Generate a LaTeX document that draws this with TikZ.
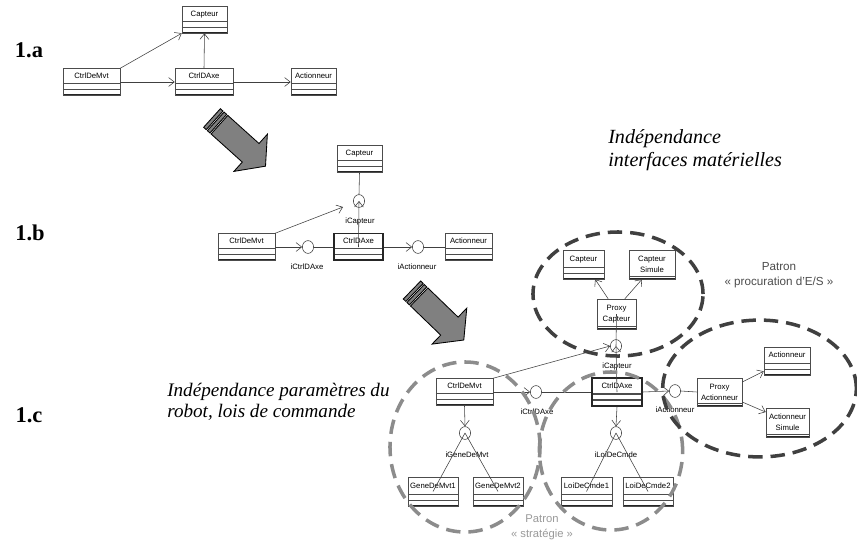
\documentclass[tikz,border=0pt]{standalone}
\usepackage{fontspec}
\setmainfont{Liberation Serif}
\setsansfont{Liberation Sans}
\usetikzlibrary{arrows.meta,shapes.geometric}

\tikzset{
  cls/.style={draw=black!70, fill=white, inner sep=0pt, minimum height=0.675cm,
    text height=0.25cm, text depth=0.425cm, font=\sffamily\fontsize{5.5}{6.5}\selectfont,
    path picture={
      \draw[black!70] ([yshift=0.3cm]path picture bounding box.south west) -- ([yshift=0.3cm]path picture bounding box.south east);
      \draw[black!70] ([yshift=0.15cm]path picture bounding box.south west) -- ([yshift=0.15cm]path picture bounding box.south east);
      \draw[black!85, line width=2pt] (path picture bounding box.south west) -- (path picture bounding box.south east);
    }},
  clsbold/.style={cls, draw=black!85, line width=0.9pt},
  clstwo/.style={draw=black!70, fill=white, inner sep=0pt, align=center,
    font=\sffamily\fontsize{5.5}{8}\selectfont,
    path picture={
      \draw[black!70] ([yshift=0.07cm]path picture bounding box.south west) -- ([yshift=0.07cm]path picture bounding box.south east);
      \draw[black!85, line width=2pt] (path picture bounding box.south west) -- (path picture bounding box.south east);
    }},
  iface/.style={ellipse, draw=black!75, fill=white, inner sep=0pt, minimum width=0.28cm, minimum height=0.32cm},
  ilbl/.style={inner sep=0pt, font=\sffamily\fontsize{5.5}{6.5}\selectfont},
  uarr/.style={draw=black!75, line width=0.4pt, -{Straight Barb[length=1.4mm,width=2.2mm]}},
  ln/.style={draw=black!75, line width=0.4pt},
  dashproc/.style={draw=black!75, line width=2.5pt, dash pattern=on 0.36cm off 0.2cm},
  dashstrat/.style={draw=black!45, line width=2.5pt, dash pattern=on 0.36cm off 0.2cm},
  bigarrow/.pic={
    \draw[fill=black!50, line width=0.6pt] (0,-12.5) rectangle (3.5,12.5);
    \draw[fill=black!50, line width=0.6pt] (5,-12.5) rectangle (8.5,12.5);
    \draw[fill=black!50, line width=0.6pt] (10,-12.5) -- (52,-12.5) -- (52,-25) -- (72,0)
      -- (52,25) -- (52,12.5) -- (10,12.5) -- cycle;
  }
}

\begin{document}
\begin{tikzpicture}[x=0.025cm, y=-0.025cm]
  \useasboundingbox (0,0) rectangle (857,541);

  % step labels
  \node[font=\bfseries\fontsize{16}{18}\selectfont] (la) at (29,50) {1.a};
  \node[font=\bfseries\fontsize{16}{18}\selectfont] (lb) at (30,233) {1.b};
  \node[font=\bfseries\fontsize{16}{18}\selectfont] (lc) at (29,415) {1.c};

  % 1.a
  \node[cls, minimum width=1.125cm] (a-capt) at (204.5,19.5) {Capteur};
  \node[cls, minimum width=1.425cm] (a-mvt) at (91.5,82) {CtrlDeMvt};
  \node[cls, minimum width=1.45cm] (a-axe) at (204,82) {CtrlDAxe};
  \node[cls, minimum width=1.125cm] (a-act) at (313.5,82) {Actionneur};
  \draw[uarr] (a-mvt.north east) -- (a-capt.south west);
  \draw[uarr] (a-mvt.east) -- (a-axe.west);
  \draw[uarr] (a-axe.north) -- (a-capt.south);
  \draw[uarr] (a-axe.east) -- (a-act.west);

  \pic[rotate=-42] at (212,118) {bigarrow};

  % 1.b
  \node[cls, minimum width=1.125cm] (b-capt) at (359.5,159) {Capteur};
  \node[cls, minimum width=1.425cm] (b-mvt) at (246.5,247) {CtrlDeMvt};
  \node[clsbold, minimum width=1.225cm] (b-axe) at (358.5,247) {CtrlDAxe};
  \node[cls, minimum width=1.175cm] (b-act) at (468.5,247) {Actionneur};
  \node[iface] (b-icapt) at (359,201) {};
  \node[iface] (b-ictrl) at (308,247) {};
  \node[iface] (b-iact) at (418,247) {};
  \node[ilbl] (b-lcapt) at (360,221) {iCapteur};
  \node[ilbl] (b-lctrl) at (307,267) {iCtrlDAxe};
  \node[ilbl] (b-lact) at (417,267) {iActionneur};
  \coordinate (b-end) at (343,207);
  \draw[ln] (b-capt.south) -- (b-icapt.north);
  \draw[uarr] (b-axe.center) -- (b-icapt.center);
  \draw[uarr] (b-mvt.north east) -- (b-end);
  \draw[uarr] (b-mvt.east) -- (b-ictrl.west);
  \draw[ln] (b-ictrl.east) -- (b-axe.west);
  \draw[uarr] (b-axe.east) -- (b-iact.west);
  \draw[ln] (b-iact.east) -- (b-act.west);

  \pic[rotate=-44] at (412,290) {bigarrow};

  % 1.c
  \node[cls, minimum width=1.025cm, minimum height=0.725cm] (c-capt) at (583.5,264.5) {Capteur};
  \node[clstwo, minimum width=1.15cm, minimum height=0.725cm] (c-captsim) at (652,264.5) {Capteur\\Simule};
  \node[clstwo, minimum width=0.975cm, minimum height=0.75cm] (c-proxcapt) at (616.5,314) {Proxy\\Capteur};
  \node[iface] (c-icapt) at (616,346) {};
  \node[ilbl] (c-lcapt) at (617,366) {iCapteur};

  \node[cls, minimum width=1.425cm] (c-mvt) at (464.5,392) {CtrlDeMvt};
  \node[clsbold, minimum width=1.25cm, minimum height=0.7cm] (c-axe) at (617,392) {CtrlDAxe};
  \node[clstwo, minimum width=1.125cm, minimum height=0.7cm] (c-proxact) at (719.5,392) {Proxy\\Actionneur};
  \node[cls, minimum width=1.15cm, minimum height=0.7cm] (c-act) at (787,361) {Actionneur};
  \node[clstwo, minimum width=1.075cm, minimum height=0.725cm] (c-actsim) at (787.5,422.5) {Actionneur\\Simule};
  \node[iface] (c-ictrl) at (536,392) {};
  \node[iface] (c-iact) at (675,391) {};
  \node[ilbl] (c-lctrl) at (537,412) {iCtrlDAxe};
  \node[ilbl] (c-lact) at (675,410) {iActionneur};

  \node[iface] (c-igene) at (465,433) {};
  \node[ilbl] (c-lgene) at (467,455) {iGeneDeMvt};
  \node[cls, minimum width=1.25cm, minimum height=0.725cm] (c-gene1) at (433,491.5) {GeneDeMvt1};
  \node[cls, minimum width=1.25cm, minimum height=0.725cm] (c-gene2) at (498,491.5) {GeneDeMvt2};
  \node[iface] (c-iloi) at (616,433) {};
  \node[ilbl] (c-lloi) at (616,455) {iLoiDeCmde};
  \node[cls, minimum width=1.275cm, minimum height=0.725cm] (c-loi1) at (586.5,491.5) {LoiDeCmde1};
  \node[cls, minimum width=1.25cm, minimum height=0.725cm] (c-loi2) at (648,491.5) {LoiDeCmde2};

  \draw[uarr] ([xshift=-0.21cm]c-proxcapt.north) -- ([xshift=0.29cm]c-capt.south);
  \draw[uarr] ([xshift=0.21cm]c-proxcapt.north) -- ([xshift=-0.25cm]c-captsim.south);
  \draw[ln] (c-proxcapt.center) -- (c-icapt.center);
  \draw[uarr] (c-axe.center) -- (c-icapt.center);
  \draw[uarr] (c-mvt.north east) -- (c-icapt.west);
  \draw[uarr] (c-mvt.east) -- (c-ictrl.west);
  \draw[ln] (c-ictrl.east) -- (c-axe.west);
  \draw[uarr] (c-axe.east) -- (c-iact.west);
  \draw[ln] (c-iact.east) -- (c-proxact.west);
  \draw[uarr] ([yshift=0.25cm]c-proxact.east) -- ([yshift=0.1cm]c-act.south west);
  \draw[uarr] ([yshift=-0.25cm]c-proxact.east) -- ([yshift=0.26cm]c-actsim.west);
  \draw[uarr] (c-mvt.south) -- (c-igene.north);
  \draw[ln] (c-igene.center) -- (c-gene1.center);
  \draw[ln] (c-igene.center) -- (c-gene2.center);
  \draw[uarr] (c-axe.south) -- (c-iloi.north);
  \draw[ln] (c-iloi.center) -- (c-loi1.center);
  \draw[ln] (c-iloi.center) -- (c-loi2.center);

  % patterns
  \draw[dashstrat] (465,447) ellipse [x radius=1.875cm, y radius=2.125cm];
  \draw[dashstrat] (611,451) ellipse [x radius=1.79cm, y radius=1.975cm];
  \draw[dashproc] (618,294) ellipse [x radius=2.125cm, y radius=1.55cm];
  \draw[dashproc] (759.5,388.5) ellipse [x radius=2.42cm, y radius=1.71cm];

  \node[align=center, text=black!70, font=\sffamily\fontsize{8.3}{10.7}\selectfont] (patproc) at (779,275) {Patron\\« procuration d'E/S »};
  \node[align=center, text=black!40, font=\sffamily\fontsize{8}{10.5}\selectfont] (patstrat) at (542,527) {Patron\\« stratégie »};

  \node[anchor=west, align=left, inner sep=0pt, font=\itshape\fontsize{14.3}{16.4}\selectfont] (indmat) at (608,150) {Indépendance\\interfaces matérielles};
  \node[anchor=west, align=left, inner sep=0pt, font=\itshape\fontsize{13.6}{14.5}\selectfont] (indrob) at (167,402) {Indépendance paramètres du\\robot, lois de commande};
\end{tikzpicture}
\end{document}
